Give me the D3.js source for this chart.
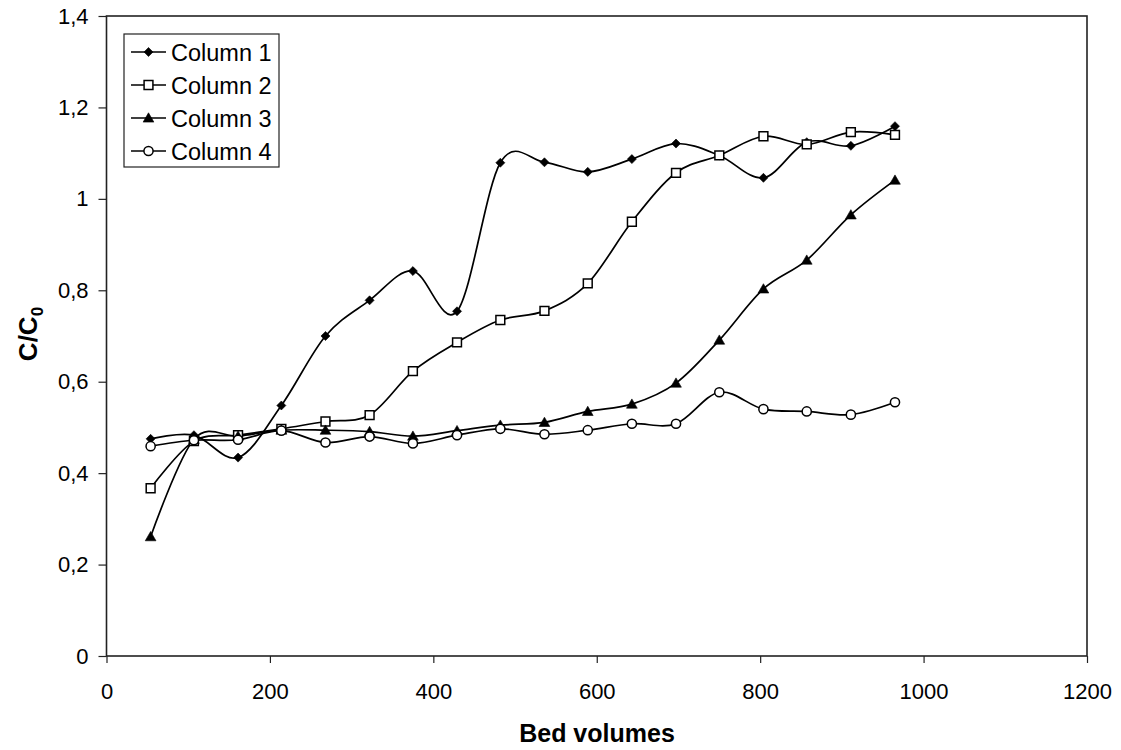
<!DOCTYPE html>
<html>
<head>
<meta charset="utf-8">
<script src="https://cdn.jsdelivr.net/npm/d3@7"></script>
<style>
  html, body { margin: 0; padding: 0; background: #fff; }
  svg { display: block; font-family: "Liberation Sans", Arial, sans-serif; }
</style>
</head>
<body>
<svg id="chart" width="1121" height="750"></svg>
<script>
// Breakthrough data: bed volumes vs. relative concentration C/C0
const bedVolumes = [54, 107, 161, 214, 268, 322, 375, 429, 482, 536, 589, 643, 697, 750, 804, 857, 911, 965];
const column1 = [0.475, 0.483, 0.434, 0.548, 0.700, 0.778, 0.842, 0.754, 1.079, 1.080, 1.059, 1.087, 1.121, 1.095, 1.046, 1.124, 1.116, 1.159];
const column2 = [0.367, 0.470, 0.483, 0.497, 0.513, 0.527, 0.623, 0.686, 0.735, 0.755, 0.815, 0.950, 1.057, 1.095, 1.137, 1.119, 1.146, 1.140];
const column3 = [0.261, 0.474, 0.481, 0.494, 0.494, 0.491, 0.481, 0.493, 0.505, 0.511, 0.535, 0.551, 0.597, 0.691, 0.803, 0.866, 0.965, 1.041];
const column4 = [0.459, 0.472, 0.473, 0.493, 0.467, 0.480, 0.465, 0.483, 0.497, 0.485, 0.494, 0.508, 0.508, 0.577, 0.540, 0.535, 0.528, 0.555];
const seriesNames = ["Column 1", "Column 2", "Column 3", "Column 4"];
const xTicks = [0, 200, 400, 600, 800, 1000, 1200];
const yTicks = [0, 0.2, 0.4, 0.6, 0.8, 1.0, 1.2, 1.4];

const series = [
  { name: seriesNames[0], values: column1, marker: "diamond" },
  { name: seriesNames[1], values: column2, marker: "square" },
  { name: seriesNames[2], values: column3, marker: "triangle" },
  { name: seriesNames[3], values: column4, marker: "circle" }
];

const svg = d3.select("#chart");
const plot = { left: 106.5, right: 1087, top: 16, bottom: 656 };

const x = d3.scaleLinear().domain([0, 1200]).range([plot.left, plot.right]);
const y = d3.scaleLinear().domain([0, 1.4]).range([plot.bottom, plot.top]);

const fmt = v => d3.format("~g")(+v.toFixed(1)).replace(".", ",");

// Axes
const xAxis = svg.append("g")
  .attr("transform", `translate(0,${plot.bottom})`)
  .call(d3.axisBottom(x).tickValues(xTicks).tickSize(7).tickPadding(20).tickFormat(d3.format("d")));
const yAxis = svg.append("g")
  .attr("transform", `translate(${plot.left},0)`)
  .call(d3.axisLeft(y).tickValues(yTicks).tickSize(8).tickPadding(10).tickFormat(fmt));

[xAxis, yAxis].forEach(a => {
  a.attr("font-size", 22).attr("font-family", "'Liberation Sans', Arial, sans-serif");
  a.select(".domain").remove();
  a.selectAll(".tick line").attr("stroke", "#222").attr("stroke-width", 1.2);
  a.selectAll(".tick text").attr("fill", "#000");
});

// Plot frame
svg.append("rect")
  .attr("x", plot.left).attr("y", plot.top)
  .attr("width", plot.right - plot.left).attr("height", plot.bottom - plot.top)
  .attr("fill", "none").attr("stroke", "#222").attr("stroke-width", 1.6);

// Axis titles
svg.append("text")
  .attr("x", 597).attr("y", 742)
  .attr("text-anchor", "middle").attr("font-size", 25).attr("font-weight", "bold")
  .text("Bed volumes");

const yTitle = svg.append("text")
  .attr("transform", `translate(37,334) rotate(-90)`)
  .attr("text-anchor", "middle").attr("font-size", 26).attr("font-weight", "bold");
yTitle.append("tspan").text("C/C");
yTitle.append("tspan").attr("font-size", 17).attr("dy", 6).text("0");

// Marker symbols
const symbolFor = {
  diamond: d3.symbol().type(d3.symbolDiamond2).size(52),
  square: d3.symbol().type(d3.symbolSquare).size(78),
  triangle: d3.symbol().type(d3.symbolTriangle).size(50),
  circle: d3.symbol().type(d3.symbolCircle).size(66)
};
const fillFor = { diamond: "#000", square: "#fff", triangle: "#000", circle: "#fff" };

function drawMarker(g, kind, cx, cy) {
  g.append("path")
    .attr("d", symbolFor[kind]())
    .attr("fill", fillFor[kind])
    .attr("stroke", "#000")
    .attr("stroke-width", kind === "square" || kind === "circle" ? 1.5 : 0.6)
    .attr("transform", `translate(${cx},${kind === "triangle" ? cy + 1 : cy})`);
}

const line = d3.line()
  .x(d => x(d[0]))
  .y(d => y(d[1]))
  .curve(d3.curveCardinal.tension(0));

series.forEach(s => {
  const pts = bedVolumes.map((b, i) => [b, s.values[i]]);
  svg.append("path")
    .attr("d", line(pts))
    .attr("fill", "none")
    .attr("stroke", "#000")
    .attr("stroke-width", 1.7);
});

series.forEach(s => {
  const g = svg.append("g");
  bedVolumes.forEach((b, i) => drawMarker(g, s.marker, x(b), y(s.values[i])));
});

// Legend
const legend = svg.append("g");
legend.append("rect")
  .attr("x", 124).attr("y", 34).attr("width", 155).attr("height", 133)
  .attr("fill", "#fff").attr("stroke", "#222").attr("stroke-width", 1.2);
series.forEach((s, i) => {
  const cy = 52 + i * 33;
  legend.append("line")
    .attr("x1", 131).attr("x2", 166).attr("y1", cy).attr("y2", cy)
    .attr("stroke", "#000").attr("stroke-width", 1.7);
  drawMarker(legend, s.marker, 148.5, cy);
  legend.append("text")
    .attr("x", 171).attr("y", cy + 8.5)
    .attr("font-size", 23.5)
    .text(s.name);
});
</script>
</body>
</html>
